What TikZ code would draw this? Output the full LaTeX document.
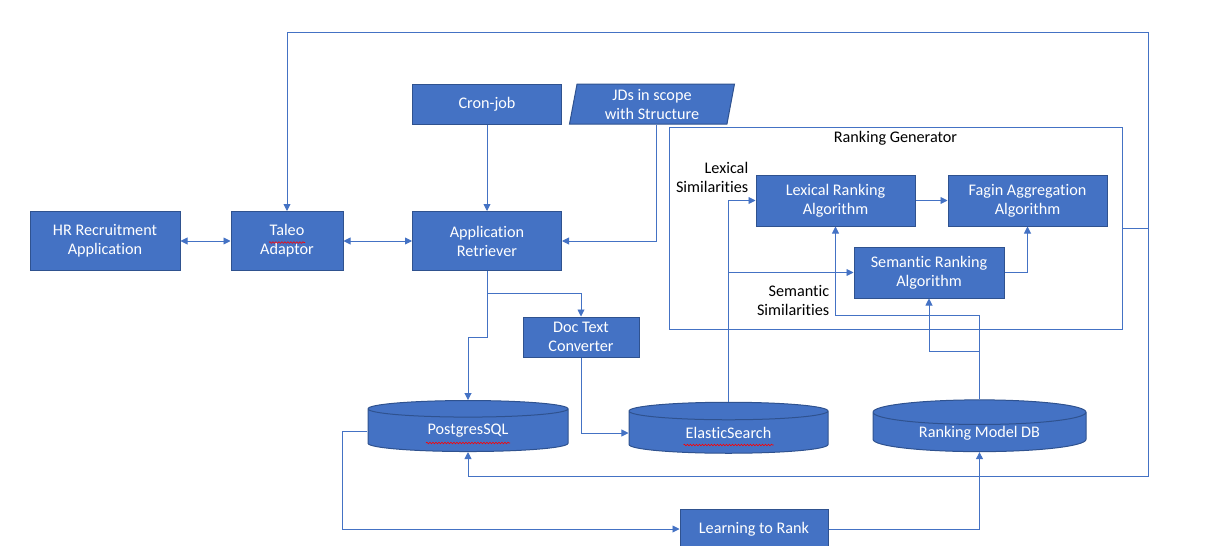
\documentclass[tikz,border=0pt]{standalone}
\usepackage{fontspec}
\setmainfont{Carlito}[Ligatures=NoCommon]
\usepackage{tikz}
\usetikzlibrary{positioning,arrows.meta,calc,shapes.geometric,decorations.pathmorphing}
\definecolor{boxfill}{HTML}{4472C4}
\definecolor{boxedge}{HTML}{2F528F}
\tikzset{blk/.style n args={2}{
    draw=boxedge, fill=boxfill, text=white, align=center, line width=1pt,
    minimum width=#1, minimum height=#2, inner sep=2pt
    },
    dbase/.style={
    cylinder, shape border rotate=90, aspect=0.2, draw=boxedge, fill=boxfill,
    text=white, line width=1pt, minimum width=#1, minimum height=51, inner sep=1pt
    },
    spell/.style={red, line width=0.6pt, decorate,
    decoration={snake, segment length=3pt, amplitude=0.8pt}}
}

\begin{document}
\begin{tikzpicture}[x=1pt,y=-1pt,>={Triangle[width=7pt,length=7pt]},
    font=\fontsize{16.2}{19}\selectfont, line width=0.9pt]
	\useasboundingbox (0,0) rectangle (1221,546);
	\node[blk={150}{59}] (hr) at (105,241) {HR Recruitment\\Application};
	\node[blk={112}{59}] (taleo) at (287,241) {Taleo\\Adaptor};
	\node[blk={149}{59}] (retr) at (487,241) {Application\\Retriever};
	\node[blk={149}{40}] (cron) at (487,104) {Cron-job};
	\node[blk={165}{40}, trapezium, trapezium left angle=76, trapezium right angle=104,
	    trapezium stretches body, inner sep=0pt] (jds) at (652,104) {JDs in scope\\with Structure};
	\node[draw=boxfill, minimum width=453, minimum height=202] (rg) at (895.5,228) {};
	\node[below=1pt of rg.north] (rgt) {Ranking Generator};
	\node[blk={159}{51}] (lex) at (835.5,200.5) {Lexical Ranking\\Algorithm};
	\node[blk={159}{51}] (fagin) at (1027.5,200.5) {Fagin Aggregation\\Algorithm};
	\node[blk={150}{51}] (sem) at (929,272.5) {Semantic Ranking\\Algorithm};
	\node[align=right, anchor=east] (lexsim) at (752,177) {Lexical\\Similarities};
	\node[align=right, anchor=east] (semsim) at (833,300) {Semantic\\Similarities};
	\node[blk={116}{40}] (doc) at (581,337) {Doc Text\\Converter};
	\node[dbase=200] (pg) at (468,431) {PostgresSQL};
	\node[dbase=199] (es) at (728.5,433) {ElasticSearch};
	\node[dbase=213] (rmdb) at (979.5,433) {Ranking Model DB};
	\node[blk={148}{40}] (ltr) at (754,529) {Learning to Rank};
	% spell check marks
	\draw[spell] ($(taleo.center)+(-18,1.5)$) -- ++(36,0);
	\draw[spell] ($(pg.center)+(-42,12)$) -- ++(84,0);
	\draw[spell] ($(es.center)+(-45,12)$) -- ++(90,0);
	% connectors
	\begin{scope}[boxfill]
	\draw [<->] (hr) -- (taleo);
	\draw [<->] (taleo) -- (retr);
	\draw [->] (cron) -- (retr);
	\draw [->] ($(jds.south)+(4,0)$) |- (retr.east);
	\draw [->] (retr.south) -- ++(0,22) -| (doc.north);
	\draw [->] (retr.south) -- ++(0,66) -| (pg.north);
	\draw [->] (doc.south) |- (es.west);
	\draw [->] (es.north) |- (lex.west);
	\coordinate (esj) at (es.north |- sem.west);
	\draw [->] (esj) -- (sem.west);
	\coordinate (rmj) at (rmdb.north |- 0,315);
	\draw [->] (rmdb.north) -- (rmj) -| (lex.south);
	\draw [->] (rmdb.north |- 0,351) -| (sem.south);
	\draw [->] (lex) -- (fagin);
	\draw [->] (sem.east) -| (fagin.south);
	\coordinate (fb) at (1148,228);
	\draw (rg.east |- fb) -- (fb);
	\draw [->] (fb) -- (1148,32) -| (taleo.north);
	\draw [->] (fb) -- (1148,476) -| (pg.south);
	\draw [->] (pg.west) -- ++(-25,0) |- (ltr.west);
	\draw [->] (ltr.east) -| (rmdb.south);
	\end{scope}
\end{tikzpicture}
\end{document}
